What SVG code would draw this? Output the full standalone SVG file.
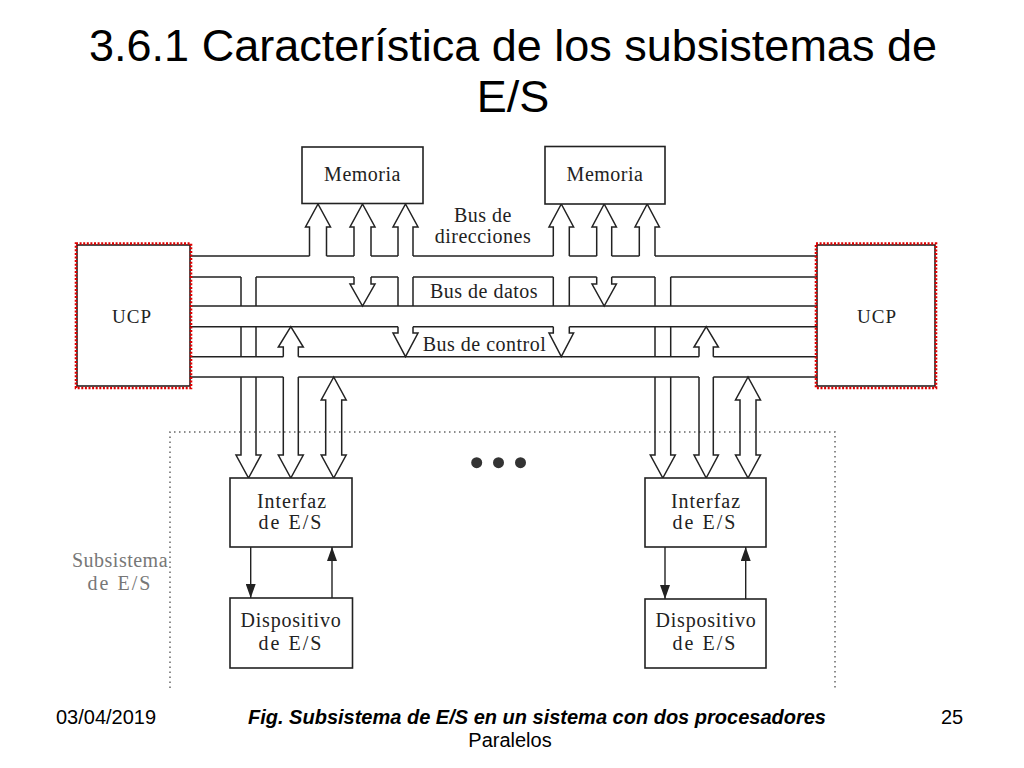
<svg xmlns="http://www.w3.org/2000/svg" width="1024" height="768" viewBox="0 0 1024 768">
<defs>
<marker id="ah" markerUnits="userSpaceOnUse" markerWidth="14" markerHeight="10" refX="14" refY="5" orient="auto">
<path d="M0,0 L14,5 L0,10 Z" fill="#222"/>
</marker>
</defs>
<style>
.box{fill:#fff;stroke:#222;stroke-width:1.6}
.ln{fill:none;stroke:#222;stroke-width:1.5}
.arw{fill:none;stroke:#222;stroke-width:1.5;stroke-linejoin:miter}
.red{fill:none;stroke:#e00000;stroke-width:2.6;stroke-dasharray:2 1.6}
.dot{fill:none;stroke:#666;stroke-width:1.5;stroke-dasharray:1.5 3.5}
.thin{fill:none;stroke:#222;stroke-width:1.4}
.sf{font-family:"Liberation Serif","Times New Roman",serif;fill:#222;font-size:20px}
.ss{font-family:"Liberation Sans",Arial,sans-serif;fill:#000}
</style>
<rect x="0" y="0" width="1024" height="768" fill="#fff"/>

<g id="title" class="ss" font-size="45" text-anchor="middle">
<text x="513" y="61">3.6.1 Característica de los subsistemas de</text>
<text x="513" y="112">E/S</text>
</g>

<g id="subsistema-frame">
<path class="dot" d="M170,688 V432 H835 V690"/>
<circle cx="476.7" cy="462.7" r="5.5" fill="#333"/>
<circle cx="498.5" cy="462.7" r="5.5" fill="#333"/>
<circle cx="520.5" cy="462.7" r="5.5" fill="#333"/>
<text class="sf" x="120" y="566.7" text-anchor="middle" style="fill:#777" letter-spacing="0.5">Subsistema</text>
<text class="sf" x="120" y="590" text-anchor="middle" style="fill:#777" letter-spacing="2">de E/S</text>
</g>

<g id="connectors">
<path class="ln" d="M190,256H309.5 M326.5,256H354 M371,256H398 M413,256H553.3 M569.3,256H596.7 M611.7,256H639.3 M655,256H817
M190,277H241 M256,277H354 M371,277H398 M413,277H553.3 M569.3,277H596.7 M611.7,277H655 M670.7,277H817
M190,306H817
M190,326.7H398 M413,326.7H553.3 M569.3,326.7H817
M190,356.7H283.3 M298.3,356.7H699 M713.3,356.7H817
M190,377H283.3 M298.3,377H699 M713.3,377H817
M241,277V306 M256,277V306 M241,326.7V356.7 M256,326.7V356.7
M655,277V306 M670.7,277V306 M655,326.7V356.7 M670.7,326.7V356.7
M398,277V306 M413,277V306 M553.3,277V306 M569.3,277V306"/>
<path class="arw" d="M309.5,256V227H305.5L318,204L330.5,227H326.5V256"/>
<path class="arw" d="M354,256V227H350L362.5,204L375,227H371V256"/>
<path class="arw" d="M354,277V284H350L362.5,306L375,284H371V277"/>
<path class="arw" d="M398,256V227H393L405.5,204L418,227H413V256"/>
<path class="arw" d="M398,326.7V333H393L405.5,356.7L418,333H413V326.7"/>
<path class="arw" d="M553.3,256V227H549L561.3,204L573.6,227H569.3V256"/>
<path class="arw" d="M553.3,326.7V333H549L561.3,356.7L573.6,333H569.3V326.7"/>
<path class="arw" d="M596.7,256V227H592L604.2,204L616.4,227H611.7V256"/>
<path class="arw" d="M596.7,277V284H592L604.2,306L616.4,284H611.7V277"/>
<path class="arw" d="M639.3,256V227H635L647.2,204L659.4,227H655V256"/>
<path class="arw" d="M241,377V455H236L248.5,478L261,455H256V377"/>
<path class="arw" d="M655,377V455H650.3L662.8,478L675.3,455H670.7V377"/>
<path class="arw" d="M283.3,356.7V347H278.3L290.8,326.7L303.3,347H298.3V356.7"/>
<path class="arw" d="M283.3,377V455H278.3L290.8,478L303.3,455H298.3V377"/>
<path class="arw" d="M699,356.7V347H694L706.2,326.7L718.4,347H713.3V356.7"/>
<path class="arw" d="M699,377V455H694L706.2,478L718.4,455H713.3V377"/>
<path class="arw" d="M333.7,377L321.2,400H325.7V455H321.2L333.7,478L346.2,455H341.7V400H346.2Z"/>
<path class="arw" d="M748,377L735.5,400H740V455H735.5L748,478L760.5,455H756V400H760.5Z"/>
<line class="thin" x1="250.7" y1="547" x2="250.7" y2="598" marker-end="url(#ah)"/>
<line class="thin" x1="332" y1="598" x2="332" y2="547" marker-end="url(#ah)"/>
<line class="thin" x1="665" y1="547" x2="665" y2="599" marker-end="url(#ah)"/>
<line class="thin" x1="745.7" y1="599" x2="745.7" y2="547" marker-end="url(#ah)"/>
</g>

<g id="bus-labels" class="sf" text-anchor="middle" letter-spacing="0.5">
<text x="483" y="222">Bus de</text>
<text x="483" y="243.3">direcciones</text>
<text x="484" y="298.3">Bus de datos</text>
<text x="484.5" y="350.7">Bus de control</text>
</g>

<g id="ucp-left">
<rect class="box" x="77" y="245" width="113" height="141"/>
<rect class="red" x="76" y="243.5" width="115" height="144.5"/>
<text class="sf" x="132" y="323.3" text-anchor="middle" letter-spacing="1" style="font-size:19px">UCP</text>
</g>

<g id="ucp-right">
<rect class="box" x="817" y="245" width="118" height="141"/>
<rect class="red" x="816" y="243.5" width="120" height="144.5"/>
<text class="sf" x="877" y="323.3" text-anchor="middle" letter-spacing="1" style="font-size:19px">UCP</text>
</g>

<g id="memoria-left">
<rect class="box" x="302" y="147" width="121" height="56.5"/>
<text class="sf" x="362.5" y="180.7" text-anchor="middle" letter-spacing="0.5">Memoria</text>
</g>

<g id="memoria-right">
<rect class="box" x="545" y="146.5" width="120" height="57.5"/>
<text class="sf" x="605" y="180.7" text-anchor="middle" letter-spacing="0.5">Memoria</text>
</g>

<g id="interfaz-left">
<rect class="box" x="230" y="478" width="122" height="69"/>
<text class="sf" x="292" y="508.3" text-anchor="middle" letter-spacing="1">Interfaz</text>
<text class="sf" x="291" y="529.3" text-anchor="middle" letter-spacing="2">de E/S</text>
</g>

<g id="interfaz-right">
<rect class="box" x="645" y="478" width="121" height="69"/>
<text class="sf" x="706" y="508.3" text-anchor="middle" letter-spacing="1">Interfaz</text>
<text class="sf" x="705" y="529.3" text-anchor="middle" letter-spacing="2">de E/S</text>
</g>

<g id="dispositivo-left">
<rect class="box" x="230" y="598" width="122.5" height="70"/>
<text class="sf" x="291" y="626.7" text-anchor="middle" letter-spacing="0.8">Dispositivo</text>
<text class="sf" x="291" y="650" text-anchor="middle" letter-spacing="2">de E/S</text>
</g>

<g id="dispositivo-right">
<rect class="box" x="645" y="599" width="121" height="69"/>
<text class="sf" x="706" y="626.7" text-anchor="middle" letter-spacing="0.8">Dispositivo</text>
<text class="sf" x="705" y="650" text-anchor="middle" letter-spacing="2">de E/S</text>
</g>

<g id="footer" class="ss" font-size="20">
<text x="56" y="724">03/04/2019</text>
<text x="537" y="724" text-anchor="middle" font-weight="bold" font-style="italic">Fig. Subsistema de E/S en un sistema con dos procesadores</text>
<text x="510" y="747" text-anchor="middle">Paralelos</text>
<text x="941" y="724">25</text>
</g>
</svg>
